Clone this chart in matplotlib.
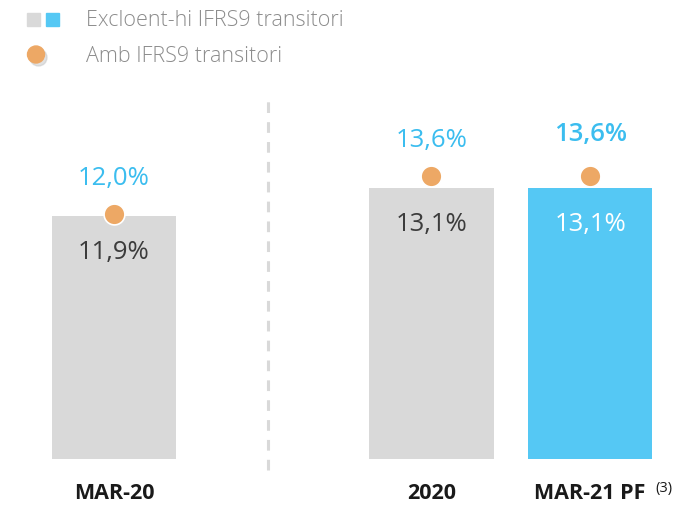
import matplotlib
matplotlib.use("Agg")
import matplotlib.pyplot as plt
from matplotlib.patches import Rectangle, Ellipse

plt.rcParams['font.family'] = ['Open Sans', 'DejaVu Sans']

categories = ["MAR-20", "2020", "MAR-21 PF"]
bar_values = [11.9, 13.1, 13.1]      # Excloent-hi IFRS9 transitori
dot_values = [12.0, 13.6, 13.6]      # Amb IFRS9 transitori
bar_labels = ["11,9%", "13,1%", "13,1%"]
dot_labels = ["12,0%", "13,6%", "13,6%"]

positions = [0, 2, 3]
gray = "#d9d9d9"
blue = "#55c8f4"
orange = "#eda865"
txt_blue = "#3bbdef"
txt_dark = "#3c3c3c"

fig = plt.figure(figsize=(6.77, 5.05), dpi=100)
ax = fig.add_axes([0.0513, 0.0911, 0.9375, 0.7327])
ax.set_xlim(-0.5, 3.5)
ax.set_ylim(1.47, 17.35)
ax.axis("off")

colors = [gray, gray, blue]
ax.bar(positions, bar_values, width=0.785, bottom=0, color=colors, zorder=1)
ax.plot(positions, dot_values, "o", ls="none", color=orange, markersize=15,
        markeredgecolor="white", markeredgewidth=1.2, zorder=3)

for i, (x, v, d) in enumerate(zip(positions, bar_values, dot_values)):
    last = i == len(positions) - 1
    ax.annotate(bar_labels[i], (x, v), xytext=(0, -26.5), textcoords="offset points",
                ha="center", va="center", fontsize=18.5,
                color="white" if last else txt_dark)
    ax.annotate(dot_labels[i], (x, d), xytext=(0, 30 if last else 25.5),
                textcoords="offset points", ha="center", va="center",
                fontsize=18.5, color=txt_blue,
                fontweight="semibold" if last else "normal")

# dashed divider
ax.plot([0.97, 0.97], [1.0, 17.0], ls=(0, (3.5, 3)), color="#d9d9d9", lw=2.2,
        clip_on=False, zorder=0)

# category labels
for x, c in zip(positions, categories):
    ax.annotate(c, (x, 1.47), xytext=(0, -25), textcoords="offset points",
                ha="center", va="center", fontsize=15.5, fontweight="bold",
                color="#1a1a1a")
ax.annotate("(3)", (positions[2], 1.47), xytext=(53, -21.5), textcoords="offset points",
            ha="center", va="center", fontsize=10.5, color="#1a1a1a")

# legend
H = 505.0
W = 677.0
fig.patches.append(Rectangle((27 / W, 1 - 26 / H), 13 / W, 13 / H,
                             transform=fig.transFigure, color=gray))
fig.patches.append(Rectangle((46 / W, 1 - 26 / H), 13 / W, 13 / H,
                             transform=fig.transFigure, color=blue))
fig.text(86 / W, 1 - 21 / H, "Excloent-hi IFRS9 transitori", fontsize=15.5,
         color="#8c8c8c", va="center", ha="left", fontweight="light")
fig.patches.append(Ellipse((38.5 / W, 1 - 57.5 / H), 17 / W, 17 / H,
                           transform=fig.transFigure, color="#c4c4c4", alpha=0.5))
fig.patches.append(Ellipse((36 / W, 1 - 54.5 / H), 17 / W, 17 / H,
                           transform=fig.transFigure, color=orange))
fig.text(86 / W, 1 - 57 / H, "Amb IFRS9 transitori", fontsize=15.5,
         color="#8c8c8c", va="center", ha="left", fontweight="light")

fig.savefig("out.png", dpi=100)
